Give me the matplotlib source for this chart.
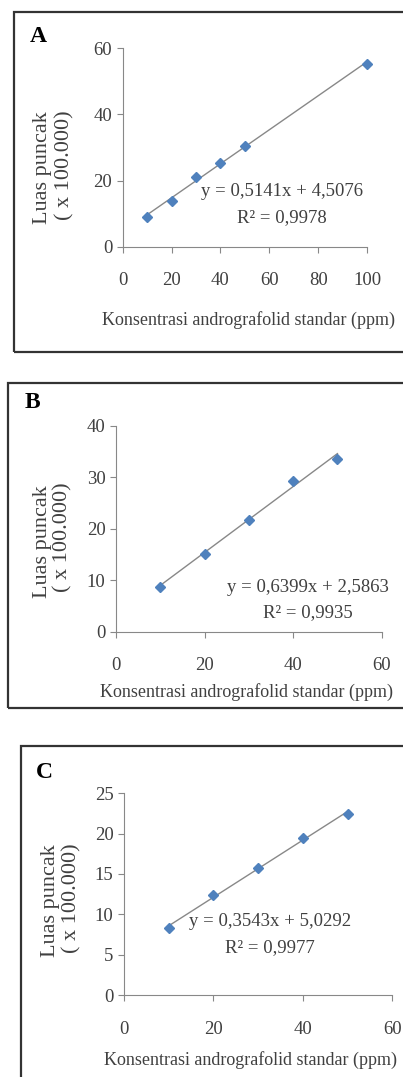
import numpy as np
import matplotlib
matplotlib.use('Agg')
import matplotlib.pyplot as plt
from matplotlib.patches import Rectangle

plt.rcParams['font.family'] = ['Liberation Serif', 'DejaVu Serif']

W, H = 403, 1077

# data
conc_a = [10, 20, 30, 40, 50, 100]
area_a = [9.1, 13.8, 21.2, 25.2, 30.5, 55.2]
conc_b = [10, 20, 30, 40, 50]
area_b = [8.7, 15.0, 21.7, 29.3, 33.5]
conc_c = [10, 20, 30, 40, 50]
area_c = [8.3, 12.4, 15.7, 19.4, 22.4]

slopes = [0.5141, 0.6399, 0.3543]
intercepts = [4.5076, 2.5863, 5.0292]
r2_values = ['0,9978', '0,9935', '0,9977']
panel_letters = ['A', 'B', 'C']
xlims = [100, 60, 60]
xticks = [[0, 20, 40, 60, 80, 100], [0, 20, 40, 60], [0, 20, 40, 60]]
ylims = [60, 40, 25]
yticks = [[0, 20, 40, 60], [0, 10, 20, 30, 40], [0, 5, 10, 15, 20, 25]]

xlabel = 'Konsentrasi andrografolid standar (ppm)'
ylabel1 = 'Luas puncak'
ylabel2 = '( x 100.000)'


def px(x, y):
    return x / W, 1 - y / H


def fmt(v, nd=4):
    return f'{v:.{nd}f}'.replace('.', ',')


# layout in pixels for each panel
# axes: left, top, right, bottom
axes_px = [(122.7, 48.3, 367, 246.7), (116, 425.7, 381.7, 631.7), (124, 793.3, 392.3, 995)]
# frame: left, top, bottom
frames = [(14, 12, 352), (8, 383, 708), (21, 746, 1090)]
letter_pos = [(38, 36), (32, 402), (44, 773)]
eq_pos = [(282, 192, 218), (308, 587, 613), (270, 922, 948)]
xlab_pos = [(102, 320), (100, 692), (104, 1060)]
ylab_pos = [(43, 168, 65, 165), (42, 542, 63, 537), (50, 901, 72, 898)]

fig = plt.figure(figsize=(W / 100, H / 100), dpi=100)

data = [(conc_a, area_a), (conc_b, area_b), (conc_c, area_c)]
grey = '#888888'
txt = '#404040'

for i in range(3):
    l, t, r, b = axes_px[i]
    x0, y0 = px(l, b)
    ax = fig.add_axes([x0, y0, (r - l) / W, (b - t) / H])
    x, y = data[i]

    # trendline from the fitted equation
    xs = np.array([min(x), max(x)])
    ax.plot(xs, slopes[i] * xs + intercepts[i], color=grey, lw=1.0, zorder=2)
    ax.plot(x, y, 'D', color='#4F81BD', markersize=5.5, zorder=3, clip_on=False)

    ax.set_xlim(0, xlims[i])
    ax.set_ylim(0, ylims[i])
    ax.set_xticks(xticks[i])
    ax.set_yticks(yticks[i])
    for s in ['top', 'right']:
        ax.spines[s].set_visible(False)
    for s in ['left', 'bottom']:
        ax.spines[s].set_color(grey)
        ax.spines[s].set_linewidth(0.8)
    ax.tick_params(axis='y', direction='out', length=4.5, width=0.8, color=grey,
                   pad=3, labelsize=13.5, labelcolor=txt)
    ax.tick_params(axis='x', direction='out', length=4.5, width=0.8, color=grey,
                   pad=14, labelsize=13.5, labelcolor=txt)
    ax.patch.set_visible(False)

    # frame around the panel
    fl, ft, fb = frames[i]
    fx, fy = px(fl, fb)
    fig.patches.append(Rectangle((fx, fy), (420 - fl) / W, (fb - ft) / H,
                                 transform=fig.transFigure, fill=False,
                                 edgecolor='#333333', lw=1.6, zorder=0))

    lx, ly = letter_pos[i]
    fig.text(*px(lx, ly), panel_letters[i], fontsize=17, fontweight='bold',
             ha='center', va='center', color='black')

    ex, ey1, ey2 = eq_pos[i]
    fig.text(*px(ex, ey1), f'y = {fmt(slopes[i])}x + {fmt(intercepts[i])}',
             fontsize=13.5, ha='center', va='center', color=txt)
    fig.text(*px(ex, ey2), f'R² = {r2_values[i]}',
             fontsize=13.5, ha='center', va='center', color=txt)

    xx, xy = xlab_pos[i]
    fig.text(*px(xx, xy), xlabel, fontsize=13, ha='left', va='center', color=txt)

    a1, b1, a2, b2 = ylab_pos[i]
    fig.text(*px(a1, b1), ylabel1, fontsize=16, rotation=90,
             ha='center', va='center', color=txt)
    fig.text(*px(a2, b2), ylabel2, fontsize=16, rotation=90,
             ha='center', va='center', color=txt)

fig.savefig('out.png', dpi=100)
